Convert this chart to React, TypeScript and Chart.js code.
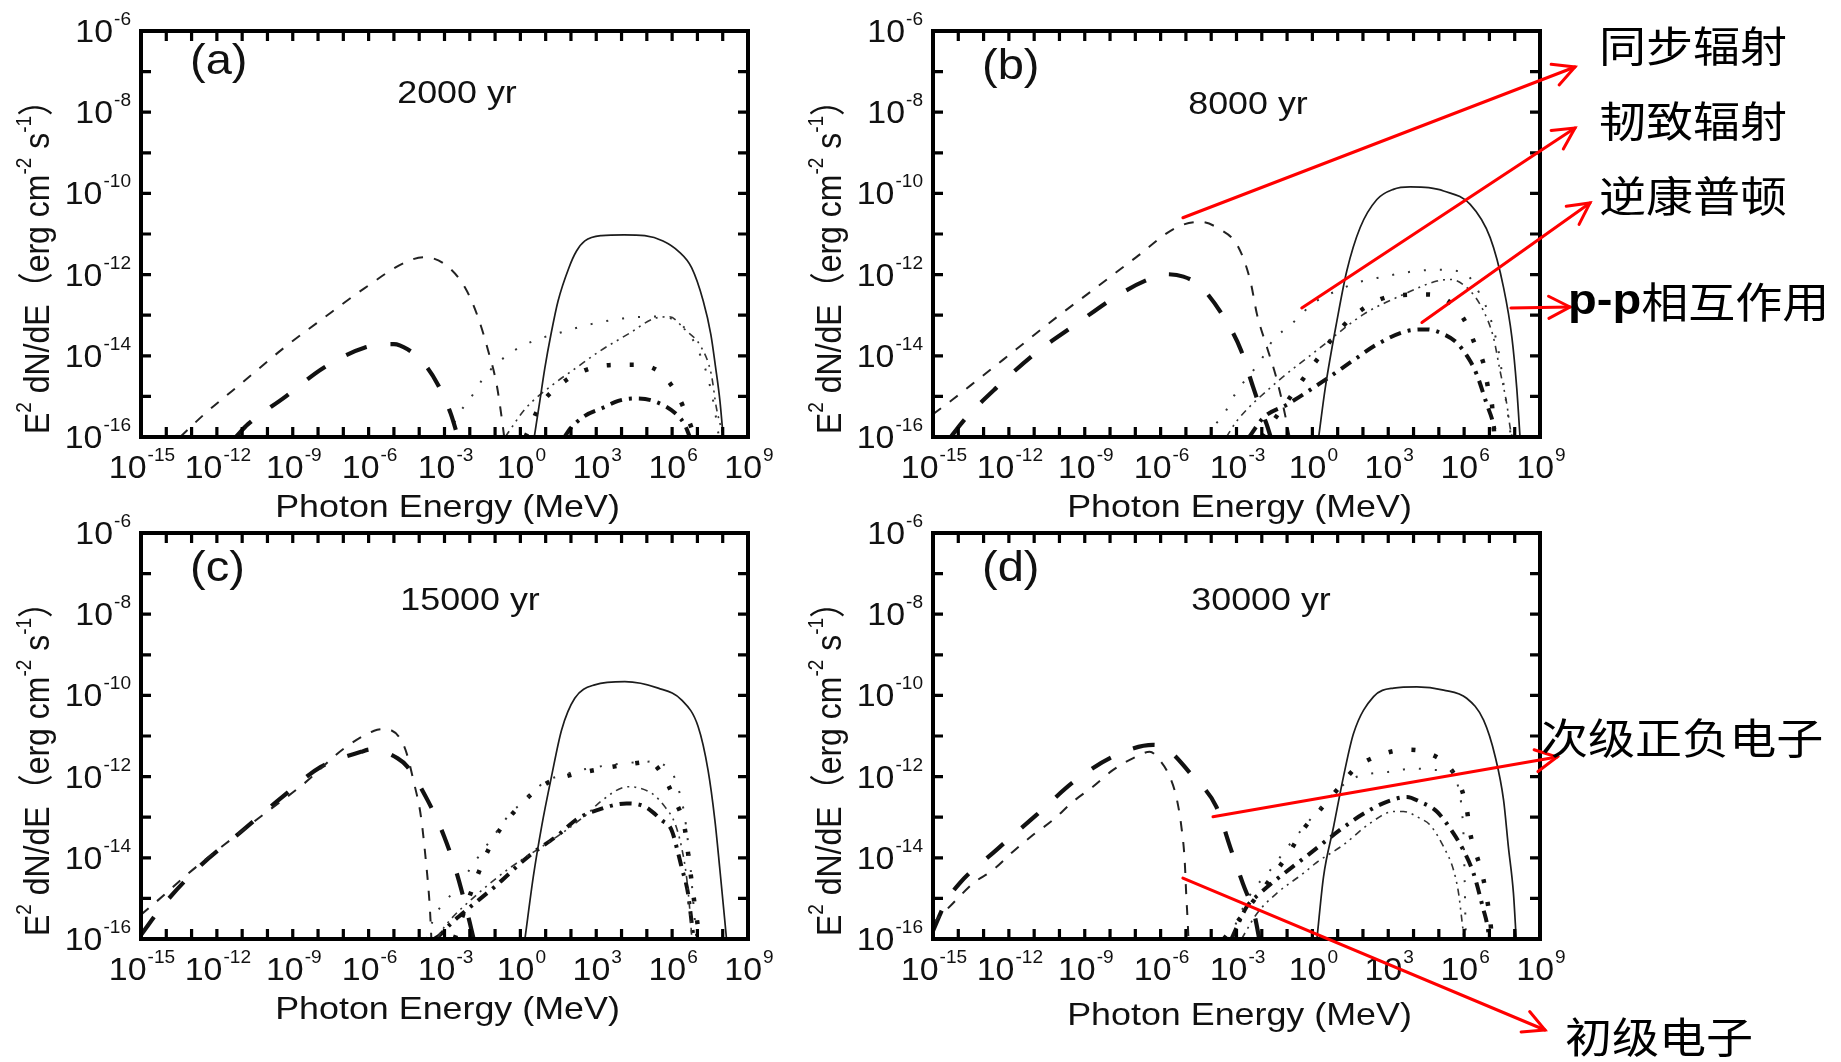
import React, { useEffect, useRef } from "react";
import { Chart, registerables } from "chart.js";
Chart.register(...registerables);

const W = 1841;
const H = 1062;
const SX = 1.12; // horizontal stretch of the original figure's lettering
const SX_TICK = 1.06;
const LATIN = "'Liberation Sans', Arial, 'Noto Sans CJK SC', sans-serif";
const CJK = "'Noto Sans CJK SC', 'Noto Sans CJK TC', sans-serif";

// ---- axis ticks (log10 exponents) ----
const X_TICK_MARKS = [-15, -14, -13, -12, -11, -10, -9, -8, -7, -6, -5, -4, -3, -2, -1, 0, 1, 2, 3, 4, 5, 6, 7, 8, 9];
const X_TICK_LABELS = [-15, -12, -9, -6, -3, 0, 3, 6, 9];
const Y_TICK_MARKS = [-16, -15, -14, -13, -12, -11, -10, -9, -8, -7, -6];
const Y_TICK_LABELS = [-16, -14, -12, -10, -8, -6];

// ---- series: [log10 E (MeV), log10 E^2 dN/dE (erg cm^-2 s^-1)] ----
// (a) 2000 yr
const A_PION = [[0.55,-16],[0.77,-15.11],[0.97,-14.29],[1.21,-13.47],[1.49,-12.65],[1.92,-11.83],[2.22,-11.42],[2.55,-11.17],[3.21,-11.04],[4.1,-11.02],[4.92,-11.04],[5.64,-11.17],[6.24,-11.42],[6.77,-11.83],[7.23,-12.65],[7.53,-13.47],[7.72,-14.29],[7.89,-15.11],[8.02,-16]];
const A_SYN_P = [[-13.45,-16],[-12.5,-15.44],[-10.92,-14.62],[-9.34,-13.8],[-7.76,-13.06],[-6.17,-12.34],[-4.59,-11.71],[-3.8,-11.57],[-2.98,-11.75],[-2.19,-12.32],[-1.67,-13.06],[-1.27,-13.88],[-0.94,-14.7],[-0.74,-15.52],[-0.64,-16]];
const A_SYN_S = [[-11.25,-16],[-10.78,-15.69],[-9.34,-15.03],[-7.76,-14.29],[-6.17,-13.8],[-5.0,-13.71],[-4.46,-13.84],[-3.8,-14.2],[-3.27,-14.7],[-2.75,-15.43],[-2.47,-16]];
const A_BRE_P = [[-2.9,-16],[-2.4,-15.4],[-2.0,-15.07],[-1.4,-14.5],[-0.55,-14.0],[0.57,-13.62],[1.36,-13.47],[2.8,-13.22],[4.07,-13.08],[5.3,-13.03],[5.9,-13.07],[6.4,-13.25],[6.9,-13.7],[7.35,-14.4],[7.65,-15.2],[7.85,-16]];
const A_IC_P = [[-0.6,-16],[0.2,-15.3],[1.2,-14.75],[2.2,-14.3],[3.15,-13.88],[4.3,-13.45],[5.3,-13.08],[5.9,-13.04],[6.5,-13.35],[7.16,-13.8],[7.55,-14.46],[7.75,-15.28],[7.95,-15.8],[8.05,-16]];
const A_BRE_S = [[0.2,-16],[0.77,-15.24],[1.5,-14.75],[2.3,-14.42],[3.5,-14.23],[4.5,-14.22],[5.5,-14.4],[6.2,-14.95],[6.6,-15.5],[6.9,-16]];
const A_IC_S = [[1.75,-16],[1.9,-15.85],[2.55,-15.48],[3.27,-15.28],[3.87,-15.11],[4.5,-15.05],[5.25,-15.11],[6.17,-15.44],[6.5,-15.7],[6.7,-16]];

// (b) 8000 yr
const B_PION = [[0.25,-16],[0.51,-14.79],[0.97,-13.14],[1.36,-11.91],[1.89,-10.84],[2.55,-10.15],[3.2,-9.9],[3.87,-9.84],[4.6,-9.86],[5.19,-9.94],[6.24,-10.27],[7.03,-11.09],[7.56,-12.32],[7.89,-13.55],[8.08,-14.79],[8.21,-16]];
const B_SYN_P = [[-15,-15.44],[-14.21,-15.07],[-13.29,-14.62],[-11.71,-13.84],[-10.13,-13.06],[-8.55,-12.32],[-6.96,-11.57],[-5.38,-10.84],[-4.46,-10.7],[-3.67,-10.88],[-2.93,-11.32],[-2.45,-12.16],[-2.19,-12.98],[-1.79,-13.8],[-1.46,-14.46],[-1.2,-15.11],[-1.0,-15.69],[-0.9,-16]];
const B_SYN_S = [[-14.3,-16],[-13.68,-15.52],[-12.5,-14.79],[-10.92,-13.92],[-9.34,-13.22],[-7.82,-12.56],[-6.6,-12.15],[-5.78,-11.99],[-5.1,-12.05],[-4.46,-12.27],[-3.41,-13.14],[-2.81,-13.88],[-2.38,-14.7],[-2.05,-15.3],[-1.8,-15.7],[-1.65,-16]];
const B_BRE_P = [[-4.1,-16],[-3.93,-15.77],[-3.54,-15.48],[-3.01,-14.9],[-2.06,-14.13],[-1.53,-13.59],[-1.0,-13.31],[-0.55,-13.06],[-0.15,-12.8],[0.38,-12.57],[0.97,-12.4],[1.76,-12.2],[2.75,-12.06],[4.13,-11.91],[5.05,-11.88],[5.6,-11.9],[6.1,-11.99],[6.63,-12.49],[7.03,-13.06],[7.36,-13.88],[7.56,-14.7],[7.75,-15.52],[7.85,-16]];
const B_IC_P = [[-3.4,-16],[-2.98,-15.6],[-1.67,-14.79],[0.31,-13.8],[2.02,-12.98],[3.6,-12.49],[4.92,-12.16],[5.45,-12.12],[6.24,-12.4],[6.77,-12.9],[7.16,-13.55],[7.42,-14.37],[7.69,-15.2],[7.82,-15.77],[7.9,-16]];
const B_BRE_S = [[-2.0,-16],[-1.2,-15.3],[-0.4,-14.6],[0.25,-14.04],[0.84,-13.53],[1.63,-13.02],[2.68,-12.61],[3.6,-12.5],[4.53,-12.49],[5.45,-12.69],[6.1,-13.22],[6.43,-13.72],[6.77,-14.2],[6.95,-14.8],[7.1,-15.2],[7.16,-15.69],[7.2,-16]];
const B_IC_S = [[-2.5,-16],[-1.93,-15.52],[-1.0,-15.2],[0.44,-14.62],[1.76,-14.05],[2.55,-13.72],[3.74,-13.39],[4.53,-13.35],[5.19,-13.47],[5.71,-13.68],[6.24,-14.13],[6.5,-14.46],[6.9,-15.2],[7.16,-15.69],[7.25,-16]];

// (c) 15000 yr
const C_PION = [[0.18,-16],[0.51,-14.47],[0.84,-13.23],[1.23,-12.0],[1.63,-10.85],[2.15,-10.07],[2.94,-9.74],[4.13,-9.66],[5.45,-9.82],[6.37,-10.11],[7.03,-10.77],[7.42,-11.84],[7.69,-13.07],[7.89,-14.3],[8.08,-15.53],[8.15,-16]];
const C_SYN_P = [[-15,-15.4],[-14.0,-14.87],[-13.29,-14.47],[-11.71,-13.68],[-10.13,-12.92],[-8.55,-12.17],[-6.96,-11.3],[-5.78,-10.87],[-5.38,-10.83],[-4.59,-11.26],[-4.2,-12.17],[-3.93,-12.99],[-3.74,-14.05],[-3.6,-15.04],[-3.54,-15.7],[-3.52,-16]];
const C_SYN_S = [[-15,-15.9],[-14.1,-15.15],[-12.63,-14.18],[-11.05,-13.36],[-9.47,-12.53],[-7.89,-11.76],[-6.3,-11.39],[-5.9,-11.33],[-4.85,-11.55],[-4.46,-11.76],[-3.67,-12.58],[-3.01,-13.48],[-2.52,-14.37],[-2.2,-15.1],[-2.0,-15.6],[-1.85,-16]];
const C_BRE_P = [[-3.7,-16],[-3.4,-15.45],[-3.0,-15.1],[-2.46,-14.7],[-1.8,-14.1],[-0.81,-13.25],[-0.42,-12.92],[0.04,-12.66],[0.51,-12.37],[0.97,-12.13],[1.89,-11.92],[2.68,-11.8],[3.87,-11.69],[5.19,-11.63],[5.78,-11.76],[6.11,-12.04],[6.3,-12.41],[6.5,-12.99],[6.7,-14.05],[6.83,-15.04],[6.96,-16]];
const C_IC_P = [[-3.3,-16],[-3.0,-15.7],[-1.67,-14.88],[-0.35,-14.22],[0.84,-13.73],[1.63,-13.4],[2.68,-12.9],[3.2,-12.6],[4.26,-12.25],[5.19,-12.41],[5.71,-12.74],[6.11,-13.15],[6.37,-13.73],[6.57,-14.47],[6.7,-15.29],[6.78,-16]];
const C_BRE_S = [[-2.6,-16],[-1.8,-14.6],[-1.1,-13.6],[0.0,-12.7],[0.97,-12.19],[1.76,-12.0],[2.94,-11.84],[4.13,-11.71],[5.12,-11.64],[5.61,-11.95],[6.11,-12.58],[6.5,-13.28],[6.7,-14.24],[6.9,-15.19],[7.1,-16]];
const C_IC_S = [[-3.4,-16],[-3.18,-15.9],[-2.73,-15.61],[-2.06,-15.25],[-1.01,-14.71],[0.31,-13.97],[1.49,-13.44],[2.28,-13.03],[3.07,-12.82],[4.2,-12.66],[4.92,-12.74],[5.58,-13.07],[5.98,-13.32],[6.24,-13.89],[6.37,-14.22],[6.63,-14.88],[6.76,-15.53],[6.85,-16]];

// (d) 30000 yr
const D_PION = [[0.18,-16],[0.44,-14.47],[0.84,-13.23],[1.23,-12.0],[1.63,-10.93],[2.42,-10.03],[3.21,-9.82],[4.13,-9.79],[5.19,-9.87],[6.1,-10.07],[6.77,-10.61],[7.23,-11.51],[7.56,-12.58],[7.75,-13.73],[7.95,-14.87],[8.06,-16]];
const D_SYN_P = [[-15,-15.61],[-14.21,-15.12],[-13.42,-14.63],[-12.63,-14.3],[-11.84,-13.85],[-11.05,-13.44],[-10.26,-13.07],[-9.47,-12.62],[-8.68,-12.25],[-7.89,-11.84],[-7.1,-11.55],[-6.43,-11.39],[-6.04,-11.59],[-5.64,-12.0],[-5.38,-12.5],[-5.18,-13.23],[-5.05,-14.05],[-4.99,-14.87],[-4.92,-15.7],[-4.9,-16]];
const D_SYN_S = [[-15,-15.8],[-14.5,-15.1],[-13.95,-14.63],[-12.5,-13.81],[-10.92,-12.95],[-9.34,-12.08],[-7.76,-11.47],[-6.3,-11.22],[-5.8,-11.3],[-4.72,-12.0],[-3.8,-12.74],[-3.21,-13.81],[-2.75,-14.63],[-2.27,-15.46],[-2.1,-16]];
const D_BRE_P = [[-3.3,-16],[-2.5,-14.95],[-1.53,-14.2],[-1.0,-13.75],[0.18,-12.86],[0.57,-12.58],[1.63,-12.04],[3.07,-11.88],[4.0,-11.8],[4.92,-11.84],[5.45,-11.85],[5.78,-12.29],[5.91,-12.82],[5.98,-13.5],[6.02,-14.5],[6.05,-15.5],[6.07,-16]];
const D_IC_P = [[-2.8,-16],[-2.19,-15.37],[-1.4,-14.87],[-0.35,-14.38],[0.18,-14.11],[1.23,-13.68],[2.28,-13.15],[3.21,-12.86],[3.6,-12.86],[4.26,-13.03],[4.65,-13.19],[5.19,-13.73],[5.58,-14.3],[5.78,-14.87],[5.91,-15.53],[6.0,-16]];
const D_BRE_S = [[-3.5,-16],[-2.5,-15.2],[-1.0,-13.95],[-0.3,-13.25],[0.25,-12.86],[0.97,-12.33],[1.69,-11.8],[2.68,-11.47],[3.67,-11.34],[4.53,-11.41],[5.45,-11.8],[5.91,-12.33],[6.11,-12.82],[6.24,-13.4],[6.43,-13.81],[6.77,-14.55],[6.9,-15.0],[7.03,-15.53],[7.1,-16]];
const D_IC_S = [[-3.2,-16],[-2.59,-15.2],[-2.06,-14.87],[-0.09,-13.89],[1.63,-13.07],[2.28,-12.82],[2.94,-12.62],[3.74,-12.5],[4.26,-12.62],[4.92,-12.86],[5.58,-13.4],[6.0,-13.85],[6.37,-14.38],[6.77,-15.29],[6.9,-15.61],[7.0,-16]];

// ---- line styles ----
const STYLES: Record<string, any> = {
  pion: { width: 1.7, dash: [], color: "#1c1c1c" },
  synP: { width: 2, dash: [10, 11], color: "#222" },
  synS: { width: 4.2, dash: [22, 24], color: "#111" },
  breP: { width: 2, dash: [2, 14], color: "#333" },
  breS: { width: 4.5, dash: [4, 19], color: "#111" },
  icP: { width: 1.6, dash: [7, 5, 2, 5, 2, 5], color: "#333" },
  icS: { width: 4, dash: [12, 7, 3, 7], color: "#111" },
};

// ---- annotations ----
const ARROWS_B = [
  { e: -5.12, f: -10.6, tipX: 1575, tipY: 67 },
  { e: -0.42, f: -12.82, tipX: 1575, tipY: 128 },
  { e: 4.33, f: -13.18, tipX: 1590, tipY: 203 },
  { e: 7.85, f: -12.82, tipX: 1570, tipY: 307 },
];
const LABELS_B = [
  { parts: [{ t: "同步辐射" }], x: 1599, y: 46 },
  { parts: [{ t: "韧致辐射" }], x: 1599, y: 121 },
  { parts: [{ t: "逆康普顿" }], x: 1599, y: 196 },
  { parts: [{ t: "p-p", bold: true }, { t: "相互作用" }], x: 1568, y: 302 },
];
const ARROWS_D = [
  { e: -3.93, f: -12.99, tipX: 1557, tipY: 757 },
  { e: -5.12, f: -14.5, tipX: 1545, tipY: 1030 },
];
const LABELS_D = [
  { parts: [{ t: "次级正负电子" }], x: 1541, y: 738 },
  { parts: [{ t: "初级电子" }], x: 1565, y: 1037 },
];

const PANELS = [
  { key: "a", letter: "(a)", age: "2000 yr", area: { l: 141, t: 31, r: 748, b: 437 }, letterDY: 31, ageDX: 316, ageDY: 63, titleDY: 80,
    series: { pion: A_PION, synP: A_SYN_P, synS: A_SYN_S, breP: A_BRE_P, icP: A_IC_P, breS: A_BRE_S, icS: A_IC_S }, arrows: [], labels: [] },
  { key: "b", letter: "(b)", age: "8000 yr", area: { l: 933, t: 31, r: 1540, b: 437 }, letterDY: 36, ageDX: 315, ageDY: 74, titleDY: 80,
    series: { pion: B_PION, synP: B_SYN_P, synS: B_SYN_S, breP: B_BRE_P, icP: B_IC_P, breS: B_BRE_S, icS: B_IC_S }, arrows: ARROWS_B, labels: LABELS_B },
  { key: "c", letter: "(c)", age: "15000 yr", area: { l: 141, t: 533, r: 748, b: 939 }, letterDY: 36, ageDX: 329, ageDY: 68, titleDY: 80,
    series: { pion: C_PION, synP: C_SYN_P, synS: C_SYN_S, breP: C_BRE_P, icP: C_IC_P, breS: C_BRE_S, icS: C_IC_S }, arrows: [], labels: [] },
  { key: "d", letter: "(d)", age: "30000 yr", area: { l: 933, t: 533, r: 1540, b: 939 }, letterDY: 36, ageDX: 328, ageDY: 68, titleDY: 86,
    series: { pion: D_PION, synP: D_SYN_P, synS: D_SYN_S, breP: D_BRE_P, icP: D_IC_P, breS: D_BRE_S, icS: D_IC_S }, arrows: ARROWS_D, labels: LABELS_D },
];

function font(size: number, bold = false, fam = LATIN) {
  return `${bold ? "bold " : ""}${size}px ${fam}`;
}

function sText(ctx: CanvasRenderingContext2D, text: string, x: number, y: number, f: string, align: string, baseline: CanvasTextBaseline, sx = SX) {
  ctx.save();
  ctx.font = f;
  ctx.textAlign = "left";
  ctx.textBaseline = baseline;
  const w = ctx.measureText(text).width * sx;
  const x0 = align === "center" ? x - w / 2 : align === "right" ? x - w : x;
  ctx.translate(x0, y);
  ctx.scale(sx, 1);
  ctx.fillText(text, 0, 0);
  ctx.restore();
  return w;
}

function powLabel(ctx: CanvasRenderingContext2D, exp: number, x: number, y: number, align: string) {
  const mainF = font(32);
  const supF = font(18);
  ctx.save();
  ctx.font = mainF;
  const w1 = ctx.measureText("10").width * SX_TICK;
  ctx.font = supF;
  const w2 = ctx.measureText(String(exp)).width * SX_TICK;
  ctx.restore();
  const total = w1 + 1 + w2;
  const x0 = align === "center" ? x - total / 2 : x - total;
  sText(ctx, "10", x0, y, mainF, "left", "alphabetic", SX_TICK);
  sText(ctx, String(exp), x0 + w1 + 1, y - 17, supF, "left", "alphabetic", SX_TICK);
}

function drawArrow(ctx: CanvasRenderingContext2D, x0: number, y0: number, x1: number, y1: number) {
  ctx.save();
  ctx.strokeStyle = "#ff0000";
  ctx.lineWidth = 3;
  ctx.lineCap = "round";
  ctx.beginPath();
  ctx.moveTo(x0, y0);
  ctx.lineTo(x1, y1);
  ctx.stroke();
  const ang = Math.atan2(y1 - y0, x1 - x0);
  const L = 24;
  const a = 0.48;
  ctx.beginPath();
  ctx.moveTo(x1 - L * Math.cos(ang - a), y1 - L * Math.sin(ang - a));
  ctx.lineTo(x1, y1);
  ctx.lineTo(x1 - L * Math.cos(ang + a), y1 - L * Math.sin(ang + a));
  ctx.stroke();
  ctx.restore();
}

function decorPlugin(cfg: any) {
  return {
    id: "decor-" + cfg.key,
    afterDraw(chart: any) {
      const ctx: CanvasRenderingContext2D = chart.ctx;
      const xs = chart.scales.x;
      const ys = chart.scales.y;
      const { left: l, top: t, right: r, bottom: b } = chart.chartArea;
      ctx.save();
      ctx.fillStyle = "#111";
      // frame
      ctx.strokeStyle = "#000";
      ctx.lineWidth = 4;
      ctx.strokeRect(l, t, r - l, b - t);
      // inward ticks
      ctx.lineWidth = 3.2;
      ctx.beginPath();
      for (const e of X_TICK_MARKS) {
        const px = xs.getPixelForValue(Math.pow(10, e));
        ctx.moveTo(px, b); ctx.lineTo(px, b - 10);
        ctx.moveTo(px, t); ctx.lineTo(px, t + 10);
      }
      for (const e of Y_TICK_MARKS) {
        const py = ys.getPixelForValue(Math.pow(10, e));
        ctx.moveTo(l, py); ctx.lineTo(l + 10, py);
        ctx.moveTo(r, py); ctx.lineTo(r - 10, py);
      }
      ctx.stroke();
      // tick labels
      for (const e of X_TICK_LABELS) {
        const px = xs.getPixelForValue(Math.pow(10, e));
        powLabel(ctx, e, px + 1, b + 41, "center");
      }
      for (const e of Y_TICK_LABELS) {
        const py = ys.getPixelForValue(Math.pow(10, e));
        powLabel(ctx, e, l - 10, py + 11, "right");
      }
      // x title
      sText(ctx, "Photon Energy (MeV)", (l + r) / 2 + 3, b + cfg.titleDY, font(32), "center", "alphabetic");
      // y title (rotated)
      const parts = [
        { s: "E", sup: false }, { s: "2", sup: true }, { s: " dN/dE", sup: false }, { s: "（", sup: false },
        { s: "erg cm", sup: false }, { s: "-2", sup: true }, { s: " s", sup: false }, { s: "-1", sup: true }, { s: "）", sup: false },
      ];
      const mainF = font(32);
      const supF = font(19);
      let total = 0;
      const widths = parts.map((p) => {
        ctx.font = p.sup ? supF : mainF;
        const w = ctx.measureText(p.s).width;
        total += w;
        return w;
      });
      ctx.save();
      ctx.translate(l - 102, t + 228);
      ctx.rotate(-Math.PI / 2);
      ctx.scale(1, SX);
      ctx.textBaseline = "middle";
      ctx.textAlign = "left";
      let cx = -total / 2;
      parts.forEach((p, i) => {
        ctx.font = p.sup ? supF : mainF;
        ctx.fillText(p.s, cx, p.sup ? -12 : 0);
        cx += widths[i];
      });
      ctx.restore();
      // panel letter and age
      sText(ctx, cfg.letter, l + 49, t + cfg.letterDY, font(42), "left", "middle");
      sText(ctx, cfg.age, l + cfg.ageDX, t + cfg.ageDY, font(32), "center", "middle");
      // annotations
      for (const a of cfg.arrows) {
        const x0 = xs.getPixelForValue(Math.pow(10, a.e));
        const y0 = ys.getPixelForValue(Math.pow(10, a.f));
        drawArrow(ctx, x0, y0, a.tipX, a.tipY);
      }
      ctx.fillStyle = "#000";
      for (const lb of cfg.labels) {
        let x = lb.x;
        for (const p of lb.parts) {
          const f = p.bold ? font(42, true, LATIN) : font(42, false, CJK);
          x += sText(ctx, p.t, x, lb.y, f, "left", "middle");
        }
      }
      ctx.restore();
    },
  };
}

function Panel({ cfg }: { cfg: any }) {
  const ref = useRef<HTMLCanvasElement>(null);
  useEffect(() => {
    const canvas = ref.current;
    if (!canvas) return;
    const order = ["pion", "synP", "synS", "breP", "icP", "breS", "icS"];
    const datasets = order.map((k) => {
      const st = STYLES[k];
      return {
        label: k,
        data: (cfg.series[k] as number[][]).map(([e, f]) => ({ x: Math.pow(10, e), y: Math.pow(10, f) })),
        borderColor: st.color,
        backgroundColor: st.color,
        borderWidth: st.width,
        borderDash: st.dash,
        pointRadius: 0,
        fill: false,
        cubicInterpolationMode: "monotone" as const,
      };
    });
    const a = cfg.area;
    const chart = new Chart(canvas, {
      type: "line",
      data: { datasets },
      options: {
        responsive: false,
        maintainAspectRatio: false,
        animation: false,
        devicePixelRatio: 1,
        layout: { padding: { left: a.l, top: a.t, right: W - a.r, bottom: H - a.b } },
        plugins: { legend: { display: false }, title: { display: false }, tooltip: { enabled: false } },
        events: [],
        scales: {
          x: { type: "logarithmic", min: 1e-15, max: 1e9, display: false },
          y: { type: "logarithmic", min: 1e-16, max: 1e-6, display: false },
        },
      },
      plugins: [decorPlugin(cfg)],
    });
    return () => chart.destroy();
  }, [cfg]);
  return (
    <canvas
      ref={ref}
      width={W}
      height={H}
      style={{ position: "absolute", left: 0, top: 0, width: W, height: H }}
    />
  );
}

export default function App() {
  return (
    <div style={{ position: "absolute", left: 0, top: 0, width: W, height: H, background: "#fff", overflow: "hidden" }}>
      {PANELS.map((p) => (
        <Panel key={p.key} cfg={p} />
      ))}
    </div>
  );
}
